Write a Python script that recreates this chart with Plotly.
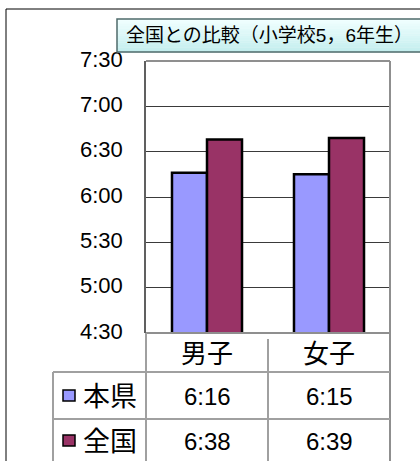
import plotly.graph_objects as go

# ---- data ----
categories = ["男子", "女子"]
series_names = ["本県", "全国"]
honken = ["6:16", "6:15"]
zenkoku = ["6:38", "6:39"]
y_tick_labels = ["4:30", "5:00", "5:30", "6:00", "6:30", "7:00", "7:30"]
title_text = "全国との比較（小学校5，6年生）"
series_colors = ["#9999FF", "#993366"]

W, H = 420, 461
FONT = "Liberation Sans, Noto Sans CJK JP, sans-serif"


def to_min(s):
    h, m = s.split(":")
    return int(h) * 60 + int(m)


def px(x):
    return x / W


def py(y):
    return 1 - y / H


series_values = [honken, zenkoku]
tick_vals = [to_min(t) for t in y_tick_labels]

# plot-area pixel geometry
PL, PR, PT, PB = 146, 390, 61, 333
ROW1, ROW2 = 372, 419
LEFTCOL = 53

fig = go.Figure()
for name, vals, col in zip(series_names, series_values, series_colors):
    fig.add_trace(go.Bar(
        x=categories, y=[to_min(v) for v in vals], name=name,
        marker=dict(color=col, line=dict(color="#000000", width=2.5)),
        hoverinfo="skip",
    ))

shapes = []
# outer frame
shapes.append(dict(type="line", xref="paper", yref="paper", x0=px(6), x1=px(425), y0=py(9), y1=py(9),
                   line=dict(color="#000000", width=1)))
shapes.append(dict(type="line", xref="paper", yref="paper", x0=px(6), x1=px(6), y0=py(9), y1=py(470),
                   line=dict(color="#000000", width=1)))

# plot border (top, right, bottom) gray
grey = "#8f8f8f"
shapes.append(dict(type="line", xref="paper", yref="paper", x0=px(PL), x1=px(PR), y0=py(PT), y1=py(PT),
                   line=dict(color=grey, width=2)))
shapes.append(dict(type="line", xref="paper", yref="paper", x0=px(PR), x1=px(PR), y0=py(PT), y1=py(470),
                   line=dict(color=grey, width=2)))
shapes.append(dict(type="line", xref="paper", yref="paper", x0=px(PL), x1=px(PR), y0=py(PB), y1=py(PB),
                   line=dict(color=grey, width=2)))
# table lines
tgrey = "#a0a0a0"
for yy in (ROW1, ROW2):
    shapes.append(dict(type="line", xref="paper", yref="paper", x0=px(LEFTCOL), x1=px(PR), y0=py(yy), y1=py(yy),
                       line=dict(color=tgrey, width=2)))
shapes.append(dict(type="line", xref="paper", yref="paper", x0=px(LEFTCOL), x1=px(LEFTCOL), y0=py(ROW1), y1=py(470),
                   line=dict(color=tgrey, width=2)))
shapes.append(dict(type="line", xref="paper", yref="paper", x0=px(PL), x1=px(PL), y0=py(PB), y1=py(470),
                   line=dict(color=tgrey, width=2)))
shapes.append(dict(type="line", xref="x", yref="paper", x0=0.5, x1=0.5, y0=py(PB + 6), y1=py(470),
                   line=dict(color=tgrey, width=2)))

# title box with vertical gradient
tb_x0, tb_x1, tb_y0, tb_y1 = 117, 430, 19, 52
n = 14
c_top = (240, 255, 255)
c_bot = (196, 238, 238)
for i in range(n):
    t = i / (n - 1)
    c = tuple(int(round(a + (b - a) * t)) for a, b in zip(c_top, c_bot))
    y0 = tb_y0 + (tb_y1 - tb_y0) * i / n
    y1 = tb_y0 + (tb_y1 - tb_y0) * (i + 1) / n
    shapes.append(dict(type="rect", xref="paper", yref="paper", x0=px(tb_x0), x1=px(tb_x1),
                       y0=py(y0), y1=py(y1 + 0.3), line=dict(width=0),
                       fillcolor="rgb(%d,%d,%d)" % c))
shapes.append(dict(type="rect", xref="paper", yref="paper", x0=px(tb_x0), x1=px(tb_x1),
                   y0=py(tb_y0), y1=py(tb_y1), line=dict(color="#4f6b6b", width=1.5)))

annotations = []
annotations.append(dict(text=title_text, xref="paper", yref="paper", x=px(124), y=py(36),
                        xanchor="left", yanchor="middle", showarrow=False,
                        font=dict(family=FONT, size=19, color="#000000")))

# category row
for cat in categories:
    annotations.append(dict(text=cat, xref="x", yref="paper", x=cat, y=py((PB + ROW1) / 2 + 1),
                            xanchor="center", yanchor="middle", showarrow=False,
                            font=dict(family=FONT, size=26, color="#000000")))

# series rows
row_centers = [(ROW1 + ROW2) / 2, (ROW2 + 461) / 2 + 0.5]
for name, vals, col, yc in zip(series_names, series_values, series_colors, row_centers):
    shapes.append(dict(type="rect", xref="paper", yref="paper", x0=px(63), x1=px(75),
                       y0=py(yc - 5.5), y1=py(yc + 5.5), fillcolor=col,
                       line=dict(color="#000000", width=1.5)))
    annotations.append(dict(text=name, xref="paper", yref="paper", x=px(81), y=py(yc + 1),
                            xanchor="left", yanchor="middle", showarrow=False,
                            font=dict(family=FONT, size=27, color="#000000")))
    for cat, v in zip(categories, vals):
        annotations.append(dict(text=v, xref="x", yref="paper", x=cat, y=py(yc + 1),
                                xanchor="center", yanchor="middle", showarrow=False,
                                font=dict(family=FONT, size=24, color="#000000")))

fig.update_layout(
    template="none",
    width=W, height=H, margin=dict(l=0, r=0, t=0, b=0, pad=0), autosize=False,
    paper_bgcolor="#ffffff", plot_bgcolor="#ffffff",
    showlegend=False, barmode="group", bargap=0.426, bargroupgap=0,
    shapes=shapes, annotations=annotations,
    font=dict(family=FONT, color="#000000"),
    xaxis=dict(domain=[px(PL), px(PR)], showticklabels=False, showgrid=False, automargin=False,
               zeroline=False, showline=False, ticks=""),
    yaxis=dict(domain=[py(PB), py(PT)], range=[tick_vals[0], tick_vals[-1]], automargin=False,
               tickvals=tick_vals, ticktext=y_tick_labels, ticks="",
               ticklabelstandoff=17, ticklabelshift=-2,
               tickfont=dict(family=FONT, size=22, color="#000000"),
               showgrid=True, gridcolor="#3a3a3a", gridwidth=1,
               zeroline=False, showline=True, linecolor="#606060", linewidth=1.5),
)

fig.write_html("out.html")
